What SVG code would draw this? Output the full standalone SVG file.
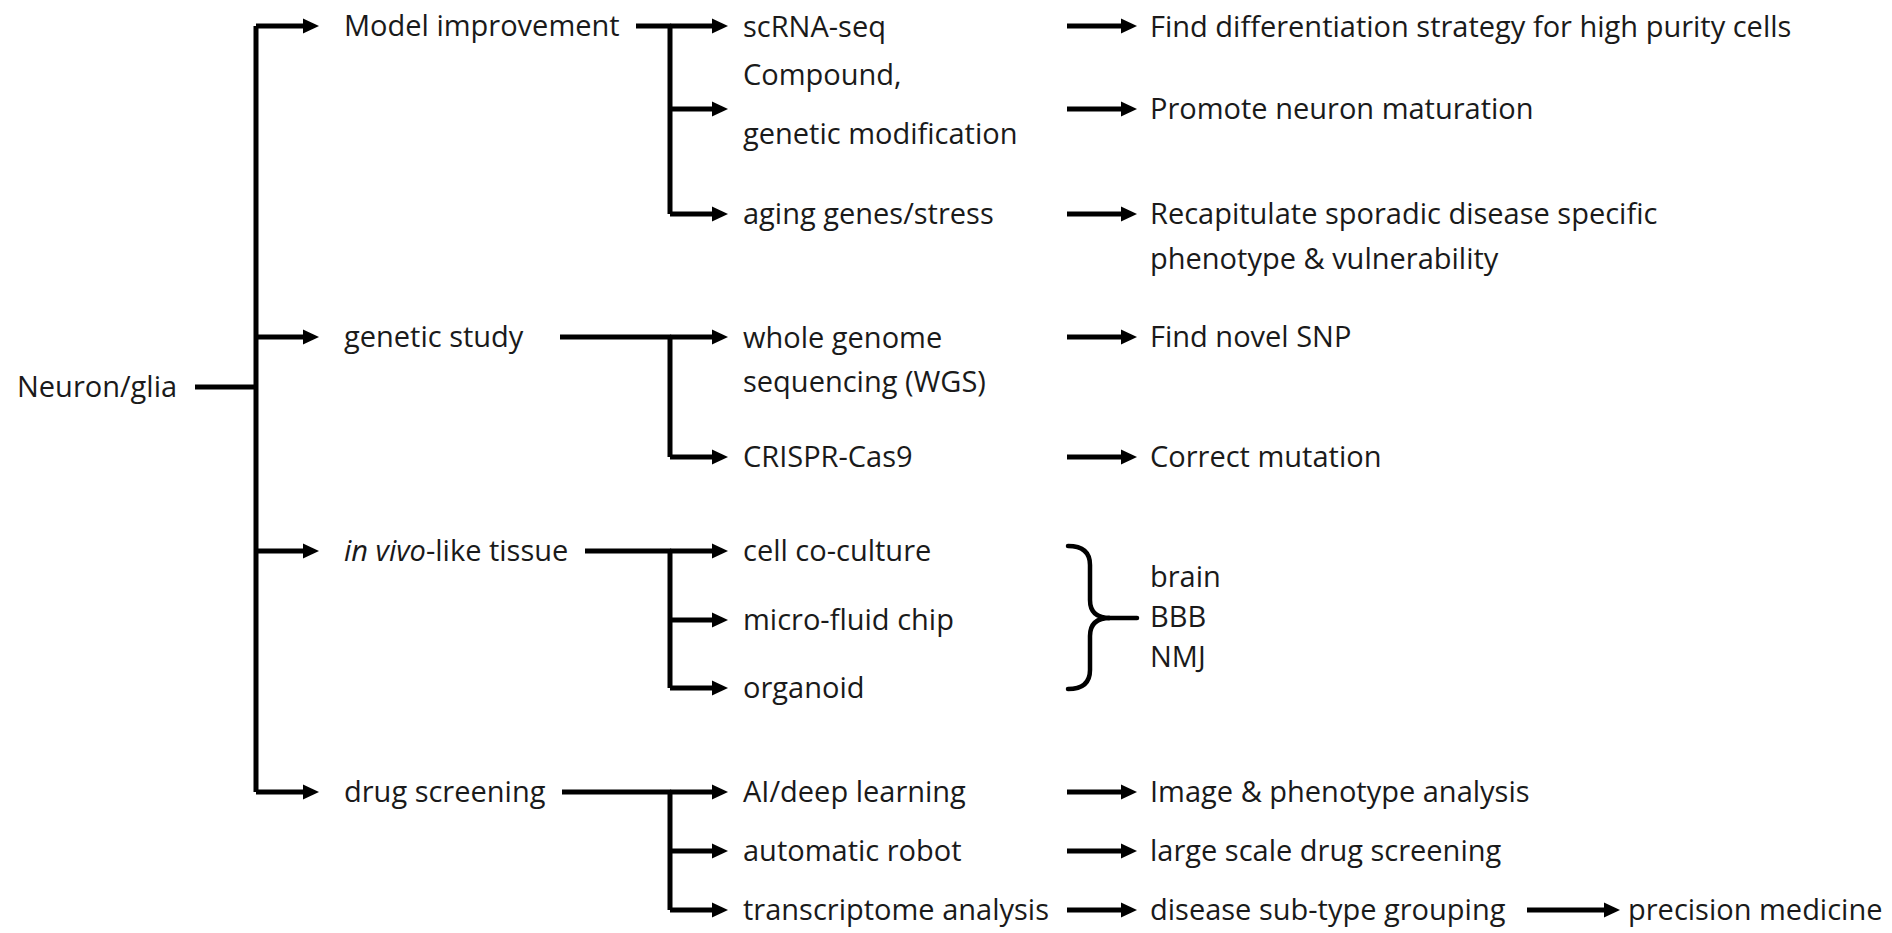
<svg xmlns="http://www.w3.org/2000/svg" width="1892" height="933" viewBox="0 0 1892 933">
<defs>
<marker id="ah" markerWidth="17" markerHeight="17" refX="1" refY="8" orient="auto" markerUnits="userSpaceOnUse"><path d="M0,0.5 L16,8 L0,15.5 z" fill="#000"/></marker>
<style>
text{font-family:"Open Sans","Noto Sans","Liberation Sans",sans-serif;font-size:29px;fill:#1a1a1a}
.c{stroke:#000;stroke-width:5;fill:none;stroke-linejoin:round}
.a{stroke:#000;stroke-width:5;fill:none;marker-end:url(#ah)}
.br{stroke:#000;stroke-width:4.5;fill:none;stroke-linecap:round}
</style>
</defs>
<rect width="1892" height="933" fill="#fff"/>
<g id="connectors">
<path class="c" d="M195,387 H256"/>
<path class="c" d="M256,26 V792"/>
<path class="a" d="M256,26 H304"/>
<path class="a" d="M256,337 H304"/>
<path class="a" d="M256,551 H304"/>
<path class="a" d="M256,792 H304"/>
<path class="c" d="M636,26 H670 V214"/>
<path class="a" d="M670,26 H713"/>
<path class="a" d="M670,109 H713"/>
<path class="a" d="M670,214 H713"/>
<path class="c" d="M560,337 H670 V457"/>
<path class="a" d="M670,337 H713"/>
<path class="a" d="M670,457 H713"/>
<path class="c" d="M585,551 H670 V688"/>
<path class="a" d="M670,551 H713"/>
<path class="a" d="M670,620 H713"/>
<path class="a" d="M670,688 H713"/>
<path class="c" d="M562,792 H670 V910"/>
<path class="a" d="M670,792 H713"/>
<path class="a" d="M670,851 H713"/>
<path class="a" d="M670,910 H713"/>
<path class="a" d="M1067,26 H1122"/>
<path class="a" d="M1067,109 H1122"/>
<path class="a" d="M1067,214 H1122"/>
<path class="a" d="M1067,337 H1122"/>
<path class="a" d="M1067,457 H1122"/>
<path class="a" d="M1067,792 H1122"/>
<path class="a" d="M1067,851 H1122"/>
<path class="a" d="M1067,910 H1122"/>
<path class="a" d="M1527,910 H1605"/>
<path class="br" d="M1068,546 Q1090,546 1090,565 V600 Q1090,618 1110,618 Q1090,618 1090,636 V670 Q1090,689 1068,689"/>
<path class="br" d="M1108,618 H1137"/>
</g>
<g id="n-root"><text x="17" y="397">Neuron/glia</text></g>
<g id="n-model"><text x="344" y="36">Model  improvement</text></g>
<g id="n-genetic"><text x="344" y="347">genetic study</text></g>
<g id="n-vivo"><text x="344" y="561"><tspan font-style="italic">in vivo</tspan>-like tissue</text></g>
<g id="n-drug"><text x="344" y="802">drug screening</text></g>
<g id="n-scrna"><text x="743" y="37">scRNA-seq</text></g>
<g id="n-compound"><text x="743" y="85">Compound,</text><text x="743" y="144">genetic modification</text></g>
<g id="n-aging"><text x="743" y="224">aging genes/stress</text></g>
<g id="n-wgs"><text x="743" y="348">whole genome</text><text x="743" y="392">sequencing (WGS)</text></g>
<g id="n-crispr"><text x="743" y="467">CRISPR-Cas9</text></g>
<g id="n-coculture"><text x="743" y="561">cell co-culture</text></g>
<g id="n-chip"><text x="743" y="630">micro-fluid chip</text></g>
<g id="n-organoid"><text x="743" y="698">organoid</text></g>
<g id="n-ai"><text x="743" y="802">AI/deep  learning</text></g>
<g id="n-robot"><text x="743" y="861">automatic robot</text></g>
<g id="n-transcriptome"><text x="743" y="920">transcriptome  analysis</text></g>
<g id="n-diff"><text x="1150" y="37">Find differentiation strategy for high purity  cells</text></g>
<g id="n-mature"><text x="1150" y="119">Promote  neuron  maturation</text></g>
<g id="n-recap"><text x="1150" y="224">Recapitulate sporadic disease specific</text><text x="1150" y="269">phenotype  &amp; vulnerability</text></g>
<g id="n-snp"><text x="1150" y="347">Find novel SNP</text></g>
<g id="n-correct"><text x="1150" y="467">Correct mutation</text></g>
<g id="n-tissue"><text x="1150" y="587">brain</text><text x="1150" y="627">BBB</text><text x="1150" y="667">NMJ</text></g>
<g id="n-image"><text x="1150" y="802">Image &amp; phenotype  analysis</text></g>
<g id="n-large"><text x="1150" y="861">large scale drug screening</text></g>
<g id="n-subtype"><text x="1150" y="920">disease sub-type grouping</text></g>
<g id="n-precision"><text x="1628" y="920">precision medicine</text></g>
</svg>
